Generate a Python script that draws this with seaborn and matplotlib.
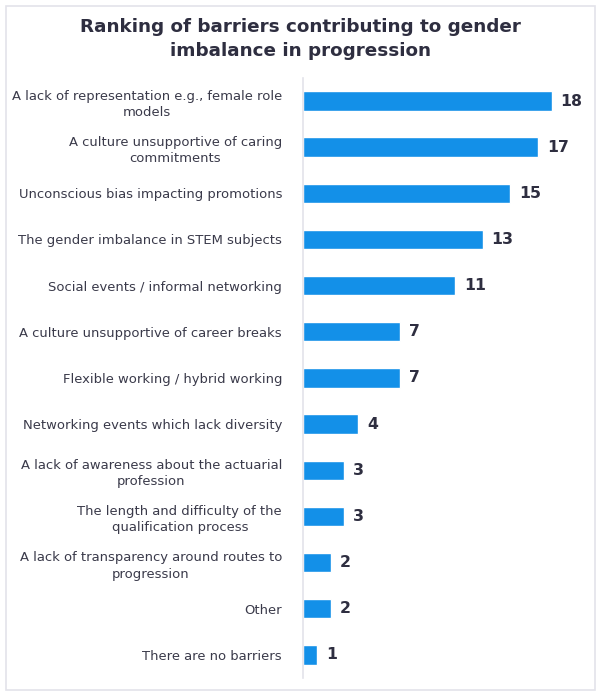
import pandas as pd
import seaborn as sns
import matplotlib.pyplot as plt
from matplotlib.patches import Rectangle

# data
barriers = [
    "A lack of representation e.g., female role\nmodels",
    "A culture unsupportive of caring\ncommitments",
    "Unconscious bias impacting promotions",
    "The gender imbalance in STEM subjects",
    "Social events / informal networking",
    "A culture unsupportive of career breaks",
    "Flexible working / hybrid working",
    "Networking events which lack diversity",
    "A lack of awareness about the actuarial\nprofession",
    "The length and difficulty of the\nqualification process",
    "A lack of transparency around routes to\nprogression",
    "Other",
    "There are no barriers",
]
counts = [18, 17, 15, 13, 11, 7, 7, 4, 3, 3, 2, 2, 1]

df = pd.DataFrame({"barrier": barriers, "count": counts})

sns.set_style("white")
plt.rcParams['font.family'] = ['DejaVu Sans']

fig = plt.figure(figsize=(6.01, 6.96), dpi=100)
ax = fig.add_axes([0.504, 0.026, 0.469, 0.862])

sns.barplot(data=df, y="barrier", x="count", color="#1390e8", width=0.42,
            saturation=1, ax=ax)

ax.set_xlim(0, 20.4)
ax.set_ylim(len(barriers) - 0.5, -0.5)
ax.set_xlabel("")
ax.set_ylabel("")
ax.set_xticks([])
for s in ["top", "right", "bottom"]:
    ax.spines[s].set_visible(False)
ax.spines["left"].set_color("#e3e3ea")
ax.spines["left"].set_linewidth(1.2)

ax.tick_params(axis="y", length=0, pad=15, labelsize=9.45, labelcolor="#3a3a4a")
for lab in ax.get_yticklabels():
    lab.set_multialignment("center")
    lab.set_linespacing(1.35)

# value labels
for p, v in zip(ax.patches, counts):
    ax.annotate(str(v), (p.get_width(), p.get_y() + p.get_height() / 2),
                xytext=(6.5, 0), textcoords="offset points",
                ha="left", va="center", fontsize=11.3, fontweight="bold",
                color="#2e2e40")

fig.text(0.5, 0.944, "Ranking of barriers contributing to gender\nimbalance in progression",
         ha="center", va="center", fontsize=13.2, fontweight="bold",
         color="#2e2e40", linespacing=1.4)

# light frame around the chart
fig.patches.append(Rectangle((6 / 601, 6 / 696), 589 / 601, 684 / 696,
                             transform=fig.transFigure, fill=False,
                             edgecolor="#e3e3ea", linewidth=1.2))

fig.savefig("out.png", dpi=100, facecolor="white")
